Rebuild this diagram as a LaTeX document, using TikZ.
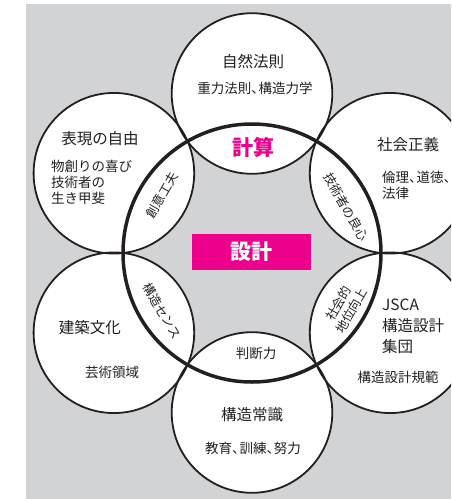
\documentclass[tikz,border=0pt]{standalone}
\usepackage{fontspec}
\newfontfamily\jp{Noto Sans CJK JP}
\definecolor{bg}{HTML}{D1D3D4}
\definecolor{mag}{HTML}{EC008C}
\definecolor{ink}{HTML}{231F20}
\newcommand\tou{、\kern-0.45em}
\begin{document}
\begin{tikzpicture}[x=1pt,y=-1pt,
  ttl/.style={inner sep=0pt, text=ink, font=\jp\fontsize{15.5}{21}\selectfont},
  sub/.style={inner sep=0pt, text=ink, font=\jp\fontsize{13.5}{15.8}\selectfont},
  lens/.style={inner sep=0pt, text=ink, font=\jp\fontsize{12.5}{15}\selectfont},
  ring/.style={draw=ink, line width=1.8pt},
  bigring/.style={draw=ink, line width=3.5pt},
  disc/.style={fill=white}]
\useasboundingbox (0,0) rectangle (451,499);
\clip (0,0) rectangle (451,499);
\fill[bg] (26,4) rectangle (451,499);
\coordinate (O) at (252,253);
\coordinate (cN) at (252,93.5);
\coordinate (cNE) at (390.1,173.25);
\coordinate (cSE) at (390.1,332.75);
\coordinate (cS) at (252,412.5);
\coordinate (cSW) at (113.9,332.75);
\coordinate (cNW) at (113.9,173.25);
\foreach \c in {cN,cNE,cSE,cS,cSW,cNW} \fill[disc] (\c) circle (80.3);
\foreach \c in {cN,cNE,cSE,cS,cSW,cNW} \draw[ring] (\c) circle (80.3);
\draw[bigring] (O) circle (129);
\node[fill=mag, minimum width=119pt, minimum height=36pt, inner sep=0pt, text=white,
  font=\jp\bfseries\fontsize{21}{24}\selectfont] (design) at (251.5,252) {設計};
\node[inner sep=0pt, text=mag, font=\jp\bfseries\fontsize{21}{24}\selectfont] (keisan) at (253,147) {計算};
\node[ttl] (t1) at (253,62) {自然法則};
\node[sub] (s1) at (255,88) {重力法則\tou 構造力学};
\node[ttl] (t2) at (100,139) {表現の自由};
\node[sub, align=left, anchor=west] (s2) at (51,182.5) {物創りの喜び\\技術者の\\生き甲斐};
\node[lens, rotate=60] (l1) at (162,195) {創意工夫};
\node[ttl] (t3) at (408,145) {社会正義};
\node[sub, align=left, anchor=west] (s3) at (382,185) {倫理\tou 道徳、\\法律};
\node[lens, rotate=-60] (l2) at (346,207) {技術者の良心};
\node[lens, rotate=-60] (l3) at (162,311) {構造センス};
\node[lens, rotate=60, align=center] (l4) at (345,307) {社会的\\地位向上};
\node[ttl] (t5) at (90,328) {建築文化};
\node[sub] (s5) at (112,372) {芸術領域};
\node[ttl, align=left, anchor=west] (t4) at (382,326) {JSCA\\構造設計\\集団};
\node[sub] (s4) at (398,377) {構造設計規範};
\node[sub] (l5) at (256,353) {判断力};
\node[ttl] (t6) at (252,415) {構造常識};
\node[sub] (s6) at (253,448) {教育\tou 訓練\tou 努力};
\end{tikzpicture}
\end{document}
